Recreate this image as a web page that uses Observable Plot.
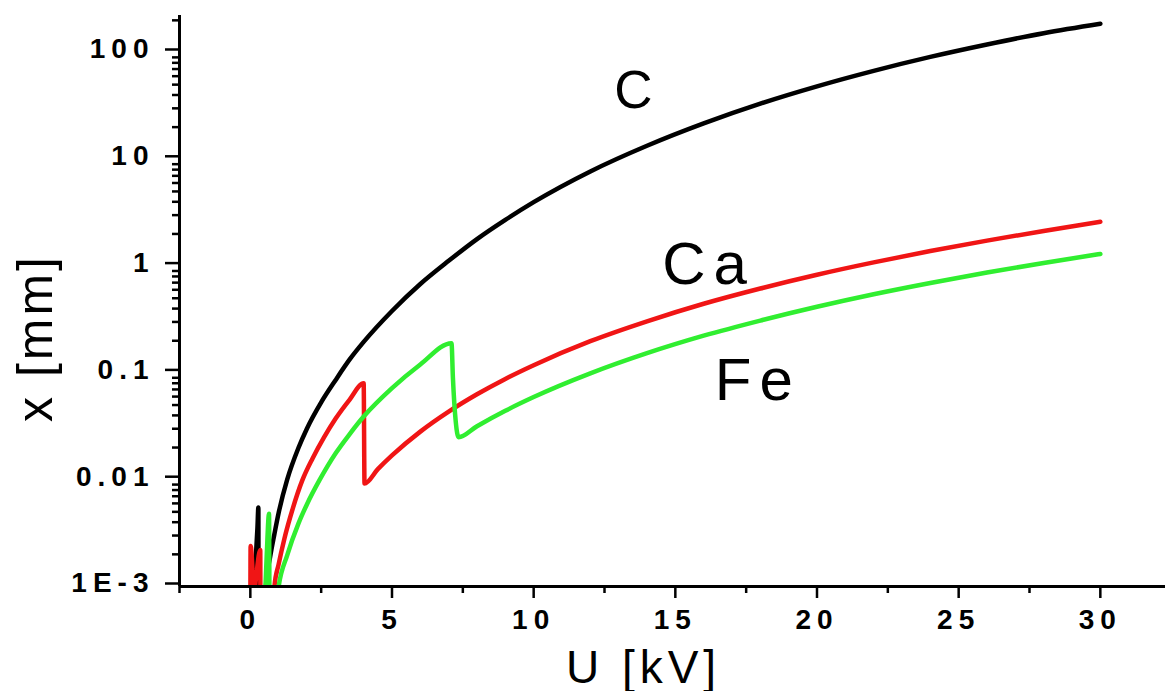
<!DOCTYPE html>
<html><head><meta charset="utf-8">
<script src="https://cdn.jsdelivr.net/npm/d3@7"></script>
<script src="https://cdn.jsdelivr.net/npm/@observablehq/plot@0.6"></script>
<style>
body{margin:0;background:#fff;}
svg{display:block;font-family:"Liberation Sans",Arial,sans-serif;}
</style></head><body><div id="chart"></div>
<script>
// Carbon (C)
const carbonU = [0.14,0.2,0.25,0.284,0.29,0.5,0.55,0.7,0.85,1.0,1.3,1.7,2.0,2.5,3.0,3.5,4,5,6,7,8,9,10,12,14,16,18,20,22,24,26,28,30];
const carbonX = [0.0008,0.002,0.0035,0.0055,0.0004,0.0006,0.001,0.0019,0.0031,0.0049,0.01,0.0199,0.0302,0.053,0.085,0.133,0.195,0.38,0.68,1.12,1.79,2.71,3.97,7.7,13.4,21.7,33.2,48.2,67.3,90.9,118.8,151.7,186];
// Calcium (Ca)
const calciumU = [0.0,0.01,0.14,0.2,0.35,0.36,0.8,0.85,1.0,1.2,1.5,1.83,2.2,2.6,3.0,3.5,4.0,4.03,4.5,5,6,7,8,9,10,12,14,16,18,20,22,24,26,28,30];
const calciumX = [0.0005,0.0024,0.0009,0.0012,0.0022,0.0004,0.0006,0.001,0.00162,0.00279,0.0054,0.0098,0.0159,0.0249,0.037,0.056,0.08,0.0092,0.01255,0.01687,0.0282,0.0434,0.0631,0.0879,0.118,0.198,0.304,0.444,0.617,0.83,1.083,1.383,1.732,2.133,2.6];
// Iron (Fe)
const ironU = [0.5,0.58,0.66,0.68,0.95,1.0,1.3,1.7,2.0,2.45,3.0,3.5,4.0,5,6,7.1,7.15,7.25,7.35,8,9,10,12,14,16,18,20,22,24,26,28,30];
const ironX = [0.0006,0.002,0.0048,0.0005,0.0008,0.001,0.00196,0.0039,0.0059,0.01,0.0175,0.0266,0.039,0.072,0.12,0.19,0.09,0.035,0.025,0.0317,0.0442,0.0594,0.099,0.153,0.223,0.309,0.416,0.545,0.695,0.87,1.07,1.3];

const xMajorTicks = [0,5,10,15,20,25,30];
const xTickLabels = ["0","5","10","15","20","25","30"];
const xMinorTicks = [-2.5,2.5,7.5,12.5,17.5,22.5,27.5];
const yMajorTicks = [0.001,0.01,0.1,1,10,100];
const yTickLabels = ["1E-3","0.01","0.1","1","10","100"];
const yMinorTicks = [];
for (const d of [0.001,0.01,0.1,1,10]) for (let k = 2; k <= 9; k++) yMinorTicks.push(+(k*d).toPrecision(3));
yMinorTicks.push(200);

const labelNames = ["C","Ca","Fe"];
const labelU = [13.66,16.17,17.91];
const labelX = [29.9,0.687,0.0552];

const toRows = (U, X) => U.map((u, i) => ({u, x: X[i]}));
const carbon = toRows(carbonU, carbonX);
const calcium = toRows(calciumU, calciumX);
const iron = toRows(ironU, ironX);
const labels = labelNames.map((n, i) => ({n, u: labelU[i], x: labelX[i]}));

const xLab = new Map(xMajorTicks.map((d, i) => [d, xTickLabels[i]]));
const yLab = new Map(yMajorTicks.map((d, i) => [d, yTickLabels[i]]));

const chart = Plot.plot({
  width: 1165, height: 691,
  marginLeft: 179, marginRight: 0, marginTop: 15, marginBottom: 105,
  style: {fontFamily: '"Liberation Sans", Arial, sans-serif', background: "#fff", color: "#000"},
  x: {domain: [-2.5, 32.3]},
  y: {type: "log", domain: [0.001, 222]},
  marks: [
    Plot.line(carbon, {x: "u", y: "x", stroke: "#000000", strokeWidth: 4.5, curve: "monotone-x", clip: true}),
    Plot.line(calcium, {x: "u", y: "x", stroke: "#f01515", strokeWidth: 4.5, curve: "monotone-x", clip: true}),
    Plot.line(iron, {x: "u", y: "x", stroke: "#30ee30", strokeWidth: 4.5, curve: "monotone-x", clip: true}),
    Plot.ruleX([-2.5], {strokeWidth: 3}),
    Plot.ruleY([0.001], {strokeWidth: 3}),
    Plot.axisX(xMajorTicks, {tickSize: 12, tickPadding: 11, tickFormat: d => xLab.get(d), fontSize: 28, fontWeight: "bold", strokeWidth: 2.5, label: null}),
    Plot.axisX(xMinorTicks, {tickSize: 7, tickFormat: () => "", strokeWidth: 2.5, label: null}),
    Plot.axisY(yMajorTicks, {tickSize: 14, tickPadding: 11, tickFormat: d => yLab.get(d), fontSize: 28, fontWeight: "bold", strokeWidth: 2.5, dy: -3, label: null}),
    Plot.axisY(yMinorTicks, {tickSize: 7, tickFormat: () => "", strokeWidth: 2.5, label: null}),
    Plot.text(labels.filter(d => d.n === "C"), {x: "u", y: "x", text: "n", fontSize: 53, lineAnchor: "bottom"}),
    Plot.text(labels.filter(d => d.n !== "C"), {x: "u", y: "x", text: "n", fontSize: 60, lineAnchor: "bottom"}),
    Plot.text(["U [kV]"], {frameAnchor: "bottom", lineAnchor: "bottom", dy: 96, dx: -29, fontSize: 46}),
    Plot.text(["x [mm]"], {frameAnchor: "left", lineAnchor: "bottom", rotate: -90, dx: -128, fontSize: 50})
  ]
});
document.getElementById("chart").appendChild(chart);
const tickSet = new Set([...xTickLabels, ...yTickLabels]);
let yTitle = null;
d3.select(chart).selectAll("text").each(function() {
  const t = this.textContent;
  const el = d3.select(this);
  if (tickSet.has(t)) el.style("font-size", "28px").style("font-weight", "bold").style("letter-spacing", "6px");
  else if (labelNames.includes(t)) el.style("letter-spacing", "8px");
  else if (t === "U [kV]") el.style("letter-spacing", "5px");
  else if (t === "x [mm]") { el.style("letter-spacing", "3px"); yTitle = this; }
});
if (yTitle) {
  const r = yTitle.getBoundingClientRect();
  const s = chart.getBoundingClientRect();
  const shift = 338 - (r.top + r.height / 2 - s.top);
  yTitle.setAttribute("transform", `translate(0,${shift.toFixed(1)}) ` + (yTitle.getAttribute("transform") || ""));
}
</script></body></html>
